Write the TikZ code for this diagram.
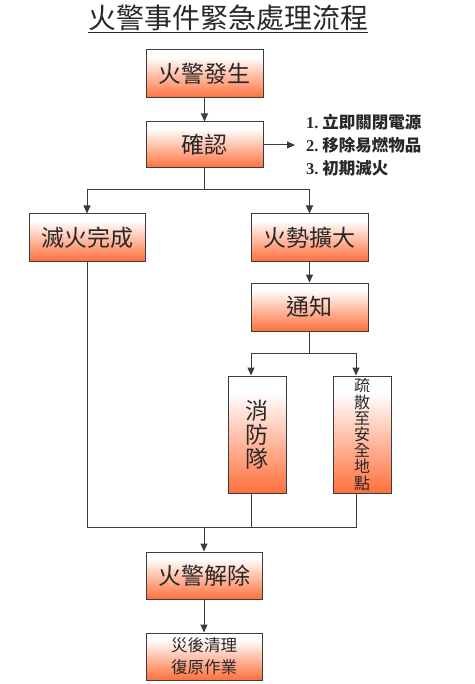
\documentclass[tikz,border=0pt]{standalone}
\usepackage{fontspec}
\setmainfont{Noto Sans CJK TC}
\newfontfamily\numfont{Liberation Serif}
\usetikzlibrary{arrows.meta}
\definecolor{ora}{RGB}{255,88,28}
\definecolor{edgec}{RGB}{60,60,60}
\definecolor{txt}{RGB}{40,40,40}
\pgfdeclareverticalshading{boxshade}{100bp}{color(0bp)=(ora); color(18bp)=(ora); color(68bp)=(white); color(100bp)=(white)}
\begin{document}
\begin{tikzpicture}[x=1pt,y=-1pt,
  box/.style={draw=edgec, line width=1pt, shading=boxshade, minimum width=117pt, minimum height=47pt, inner sep=0pt, text=txt, font=\fontsize{23}{24}\selectfont},
  vbox/.style={box, minimum width=58pt, minimum height=117pt, align=center},
  arr/.style={-{Triangle[length=8pt,width=7pt]}, line width=1pt, draw=edgec},
  ln/.style={line width=1pt, draw=edgec}]
\useasboundingbox (0,0) rectangle (474,684);
\node[font=\fontsize{28}{30}\selectfont, inner sep=0pt, text=txt] (title) at (228,18) {火警事件緊急處理流程};
\draw[line width=1.1pt, draw=txt] ([yshift=-1pt]title.south west) -- ([yshift=-1pt]title.south east);

\node[box, minimum height=48pt] (b1) at (204.5,74) {火警發生};
\node[box, minimum height=46pt] (b2) at (204.5,145) {確認};
\node[box, minimum width=116pt] (b3) at (87,237.5) {滅火完成};
\node[box] (b4) at (309.5,237.5) {火勢擴大};
\node[box, minimum height=48pt] (b5) at (309.5,307) {通知};
\node[vbox] (b6) at (257,434.5) {消\\防\\隊};
\node[vbox, font=\fontsize{16}{16.2}\selectfont] (b7) at (362,434.5) {疏\\散\\至\\安\\全\\地\\點};
\node[box, minimum width=116pt] (b8) at (204,575.5) {火警解除};
\node[box, minimum width=116pt, align=center, font=\fontsize{16.5}{22}\selectfont] (b9) at (204,656.5) {災後清理\\復原作業};

\coordinate (lt) at (295,145);
\node[anchor=west, inner sep=0pt, align=left, text=txt, font=\fontsize{16.5}{23}\selectfont\bfseries] (lst) at (306,145)
  {{\numfont 1.}\ 立即關閉電源\\{\numfont 2.}\ 移除易燃物品\\{\numfont 3.}\ 初期滅火};

\draw[arr] (b1) -- (b2);
\draw[arr] (b2.east) -- (lt);
\coordinate (j1) at (204.5,190);
\draw[ln] (b2.south) -- (j1);
\draw[arr] (j1) -| (b3.north);
\draw[arr] (j1) -| (b4.north);
\draw[arr] (b4) -- (b5);
\coordinate (j2) at (309.5,353);
\draw[ln] (b5.south) -- (j2);
\draw[arr] (j2) -| ([xshift=-6pt]b6.north);
\draw[arr] (j2) -| ([xshift=-6pt]b7.north);
\coordinate (j3) at (204,527);
\draw[ln] (b3.south) |- (j3);
\draw[ln] ([xshift=-6pt]b7.south) |- (j3);
\draw[ln] ([xshift=-6pt]b6.south) -- ([xshift=-6pt]b6.south |- j3);
\draw[arr] (j3) -- (b8.north);
\draw[arr] (b8) -- (b9);
\end{tikzpicture}
\end{document}
